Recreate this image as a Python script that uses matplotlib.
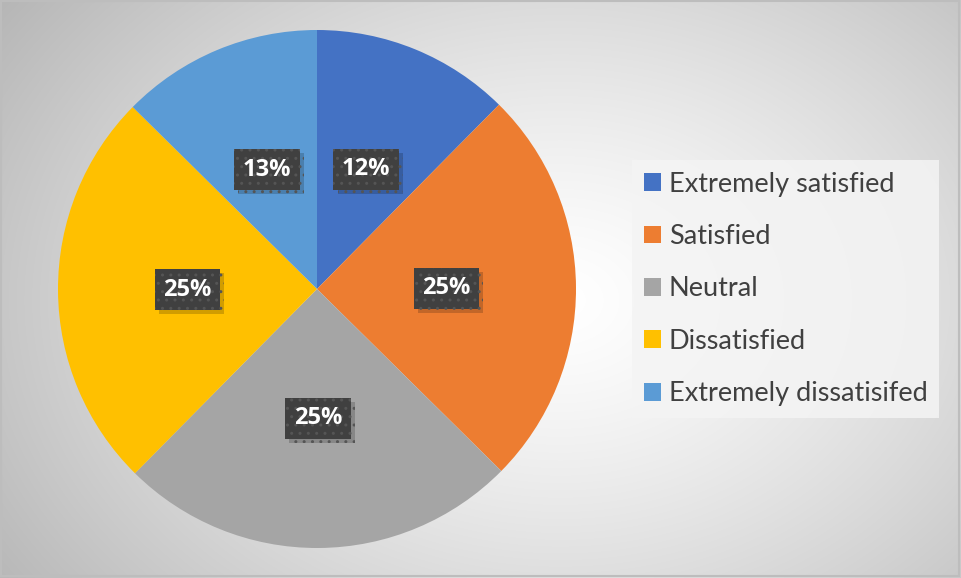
import numpy as np
import matplotlib.pyplot as plt
import matplotlib.patheffects as pe
from matplotlib.patches import Patch, Rectangle

labels = ['Extremely satisfied', 'Satisfied', 'Neutral', 'Dissatisfied', 'Extremely dissatisifed']
values = [12.4, 25, 25, 25, 12.6]
colors = ['#4472C4', '#ED7D31', '#A5A5A5', '#FFC000', '#5B9BD5']

W, H = 961, 578
fig = plt.figure(figsize=(W / 100, H / 100), dpi=100)

# background: soft radial gradient, light in the middle, gray to the edges
bg = fig.add_axes([0, 0, 1, 1], zorder=-10)
yy, xx = np.mgrid[0:H, 0:W]
d = np.sqrt(((xx - 560) / 560.0) ** 2 + ((yy - 300) / 420.0) ** 2)
shade = np.clip(1.0 - 0.22 * d ** 1.3, 0, 1)
bg.imshow(np.dstack([shade, shade, shade]), aspect='auto', extent=[0, W, H, 0])
bg.add_patch(Rectangle((1, 1), W - 3, H - 3, fill=False, edgecolor='#bdbdbd', lw=1.5))
bg.set_xlim(0, W)
bg.set_ylim(H, 0)
bg.axis('off')

# pie, centre (317, 289) px, radius 259 px
cx, cy, r = 317, 289, 259
ax = fig.add_axes([(cx - r) / W, (H - cy - r) / H, 2 * r / W, 2 * r / H])
wedges, texts = ax.pie(values, colors=colors, startangle=90, counterclock=False,
                       labels=[f'{v:.0f}%' for v in values], labeldistance=0.5,
                       wedgeprops=dict(linewidth=0))
for t in texts:
    t.set_ha('center')
    t.set_va('center')
    t.set_color('white')
    t.set_fontsize(17)
    t.set_fontweight('bold')
    t.set_family('Open Sans')
    t.set_bbox(dict(boxstyle='square,pad=0.36', facecolor='#404040',
                    edgecolor='#555555', linewidth=0, hatch='..'))
    # soft drop shadow under the label box
    t.get_bbox_patch().set_path_effects([
        pe.SimplePatchShadow(offset=(3, -3), shadow_rgbFace='black', alpha=0.18),
        pe.Normal()])
ax.set_xlim(-1, 1)
ax.set_ylim(-1, 1)
ax.axis('off')

handles = [Patch(facecolor=c, edgecolor='none') for c in colors]
leg = fig.legend(handles, labels, loc='center left',
                 bbox_to_anchor=(632 / W, (H - 289) / H),
                 frameon=True, fancybox=False, borderaxespad=0,
                 prop={'family': 'Lato', 'size': 19.5},
                 handlelength=0.63, handleheight=0.63, handletextpad=0.3,
                 labelspacing=1.01, borderpad=0.43)
leg.get_frame().set_facecolor('#f4f4f4')
leg.get_frame().set_alpha(0.85)
leg.get_frame().set_linewidth(0)
for t in leg.get_texts():
    t.set_color('#404040')

fig.savefig('out.png', dpi=100)
